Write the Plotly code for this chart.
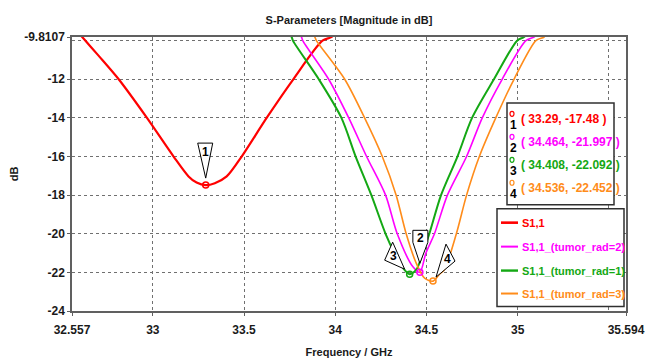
import plotly.graph_objects as go

# ---------------- data ----------------
red_f = [32.59, 32.613, 32.70, 32.813, 32.968, 33.114, 33.196, 33.24, 33.29, 33.34, 33.405, 33.487, 33.624, 33.77, 33.93, 33.98, 34.00]
red_db = [-9.56, -9.81, -10.75, -12.0, -14.0, -16.0, -17.03, -17.35, -17.48, -17.38, -17.03, -16.0, -14.0, -12.0, -10.0, -9.81, -9.55]

grn_f = [33.74, 33.761, 33.768, 33.91, 34.034, 34.112, 34.198, 34.276, 34.325, 34.374, 34.408, 34.445, 34.48, 34.516, 34.58, 34.67, 34.75, 34.87, 34.997, 35.035, 35.06]
grn_db = [-9.55, -9.81, -10.0, -12.0, -14.0, -16.0, -18.0, -20.0, -21.0, -21.8, -22.092, -21.85, -21.0, -20.0, -18.0, -16.0, -14.0, -12.0, -10.0, -9.81, -9.55]

pnk_f = [33.79, 33.815, 33.822, 33.964, 34.074, 34.172, 34.276, 34.34, 34.425, 34.464, 34.497, 34.544, 34.615, 34.72, 34.806, 34.915, 35.045, 35.09, 35.12]
pnk_db = [-9.55, -9.81, -10.0, -12.0, -14.0, -16.0, -18.0, -20.0, -21.7, -21.997, -21.0, -20.0, -18.0, -16.0, -14.0, -12.0, -10.0, -9.81, -9.55]

org_f = [33.86, 33.888, 33.897, 34.052, 34.161, 34.258, 34.334, 34.389, 34.443, 34.49, 34.536, 34.571, 34.598, 34.664, 34.72, 34.79, 34.88, 34.98, 35.10, 35.145, 35.17]
org_db = [-9.55, -9.81, -10.0, -12.0, -14.0, -16.0, -18.0, -20.0, -21.5, -22.3, -22.452, -22.1, -21.87, -20.0, -18.0, -16.0, -14.0, -12.0, -10.0, -9.81, -9.55]

series_names = ["S1,1", "S1,1_(tumor_rad=2)", "S1,1_(tumor_rad=1)", "S1,1_(tumor_rad=3)"]
series_colors = ["#ff0000", "#ff00ff", "#14a814", "#ff8c1a"]
series_widths = [2.2, 1.6, 2.0, 1.6]

marker_ids = ["1", "2", "3", "4"]
marker_f = [33.29, 34.464, 34.408, 34.536]
marker_db = [-17.48, -21.997, -22.092, -22.452]
marker_colors = ["#ff0000", "#ff00ff", "#14a814", "#ff8c1a"]

x_tickvals = [32.557, 33, 33.5, 34, 34.5, 35, 35.594]
x_gridvals = [33, 33.5, 34, 34.5, 35, 35.5]
y_tickvals = [-9.8107, -12, -14, -16, -18, -20, -22, -24]
y_gridvals = [-10, -12, -14, -16, -18, -20, -22]

# ---------------- style ----------------
FONT = "Liberation Sans, Arial, sans-serif"
AX = "#606060"
GRID = "#707070"
TXT = "#1a1a1a"

fig = go.Figure()
curves = [(red_f, red_db), (pnk_f, pnk_db), (grn_f, grn_db), (org_f, org_db)]
for (f, d), n, c, w in zip(curves, series_names, series_colors, series_widths):
    fig.add_trace(go.Scatter(x=f, y=d, mode="lines", name=n,
                             line=dict(color=c, width=w, shape="spline", smoothing=0.8),
                             showlegend=False, hoverinfo="skip"))

fig.add_trace(go.Scatter(x=marker_f, y=marker_db, mode="markers", showlegend=False,
                         marker=dict(symbol="circle-open", size=6, color=marker_colors,
                                     line=dict(width=1.5, color=marker_colors))))

# callout triangles (pixel offsets relative to each marker point)
callout_paths = [
    "M-8,42 L7,42 L0,7 Z",
    "M-7,42 L8,42 L8,30 L0,9 L-7,30 Z",
    "M-17,32 L-25,14 L-5,5 Z",
    "M13,37 L22,20 L3,4 Z",
]
callout_text_offsets = [(-0.5, 33), (0.5, 34), (-16, 18), (14, 22)]
for i in range(4):
    fig.add_shape(type="path", path=callout_paths[i], xref="x", yref="y",
                  xsizemode="pixel", ysizemode="pixel",
                  xanchor=marker_f[i], yanchor=marker_db[i],
                  fillcolor="white", line=dict(color="black", width=1))
    dx, dy = callout_text_offsets[i]
    fig.add_annotation(x=marker_f[i], y=marker_db[i], xref="x", yref="y",
                       xanchor="center", yanchor="middle",
                       text=marker_ids[i], showarrow=False, xshift=dx, yshift=dy,
                       font=dict(family=FONT, size=12, color="black", weight="bold"))

# ---------------- marker table ----------------
def px2x(px):
    return (px - 72) / 554.0

def py2y(py):
    return (311.5 - py) / 274.5

fig.add_shape(type="rect", xref="paper", yref="paper",
              x0=px2x(507), x1=px2x(614), y0=py2y(205), y1=py2y(103),
              fillcolor="white", line=dict(color="#303030", width=1.5), layer="above")
row_y = [119, 142, 165, 188]
for i in range(4):
    fig.add_shape(type="circle", xref="paper", yref="paper",
                  xsizemode="pixel", ysizemode="pixel",
                  xanchor=px2x(512), yanchor=py2y(row_y[i] - 5),
                  x0=-2, x1=2, y0=-2.5, y1=2.5,
                  line=dict(color=marker_colors[i], width=1.2), layer="above")
    fig.add_annotation(x=px2x(513), y=py2y(row_y[i] + 6), xref="paper", yref="paper",
                       xanchor="center", yanchor="middle",
                       text=marker_ids[i], showarrow=False,
                       font=dict(family=FONT, size=12, color="black", weight="bold"))
    fig.add_annotation(x=px2x(519), y=py2y(row_y[i]), xref="paper", yref="paper",
                       xanchor="left", yanchor="middle",
                       text=f"( {marker_f[i]}, {marker_db[i]} )", showarrow=False,
                       font=dict(family=FONT, size=12, color=marker_colors[i], weight="bold"))

# ---------------- legend (drawn box) ----------------
fig.add_shape(type="rect", xref="paper", yref="paper",
              x0=px2x(497), x1=px2x(624), y0=py2y(307), y1=py2y(209),
              fillcolor="white", line=dict(color="#303030", width=1.5), layer="above")
leg_y = [223, 247, 271, 294]
for i in range(4):
    fig.add_shape(type="line", xref="paper", yref="paper",
                  x0=px2x(501), x1=px2x(518), y0=py2y(leg_y[i]), y1=py2y(leg_y[i]),
                  line=dict(color=series_colors[i], width=series_widths[i] + 0.4), layer="above")
    fig.add_annotation(x=px2x(520), y=py2y(leg_y[i]), xref="paper", yref="paper",
                       xanchor="left", yanchor="middle",
                       text=series_names[i], showarrow=False,
                       font=dict(family=FONT, size=11, color=series_colors[i], weight="bold"))

fig.update_layout(
    width=656, height=361,
    margin=dict(l=72, r=30, t=37, b=50, autoexpand=False),
    paper_bgcolor="white", plot_bgcolor="white",
    showlegend=False,
    title=dict(text="S-Parameters [Magnitude in dB]", x=0.5, xref="paper",
               y=1 - 20 / 361, yref="container", yanchor="middle",
               font=dict(family=FONT, size=11, color=TXT, weight="bold")),
    font=dict(family=FONT, color=TXT),
)
fig.update_xaxes(
    range=[32.557, 35.594], tickmode="array", tickvals=x_tickvals,
    ticktext=[str(v) for v in x_tickvals], automargin=False,
    showgrid=False, zeroline=False,
    showline=True, linecolor=AX, linewidth=1.5, mirror=True,
    ticks="outside", ticklen=3, tickcolor=AX, ticklabelstandoff=4,
    tickfont=dict(family=FONT, size=12, color=TXT, weight="bold"),
    minor=dict(tickmode="array", tickvals=x_gridvals, showgrid=True, gridcolor=GRID,
               griddash="dot", gridwidth=1),
    title=dict(text="Frequency / GHz", standoff=12,
               font=dict(family=FONT, size=11, color=TXT, weight="bold")),
)
fig.update_yaxes(
    range=[-24, -9.8107], tickmode="array", tickvals=y_tickvals,
    ticktext=[str(v) for v in y_tickvals], automargin=False,
    showgrid=False, zeroline=False,
    showline=True, linecolor=AX, linewidth=1.5, mirror=True,
    ticks="outside", ticklen=3, tickcolor=AX,
    tickfont=dict(family=FONT, size=12, color=TXT, weight="bold"),
    minor=dict(tickmode="array", tickvals=y_gridvals, showgrid=True, gridcolor=GRID,
               griddash="dot", gridwidth=1),
    title=dict(text="dB", standoff=3,
               font=dict(family=FONT, size=11, color=TXT, weight="bold")),
)

fig.write_html("out.html")
